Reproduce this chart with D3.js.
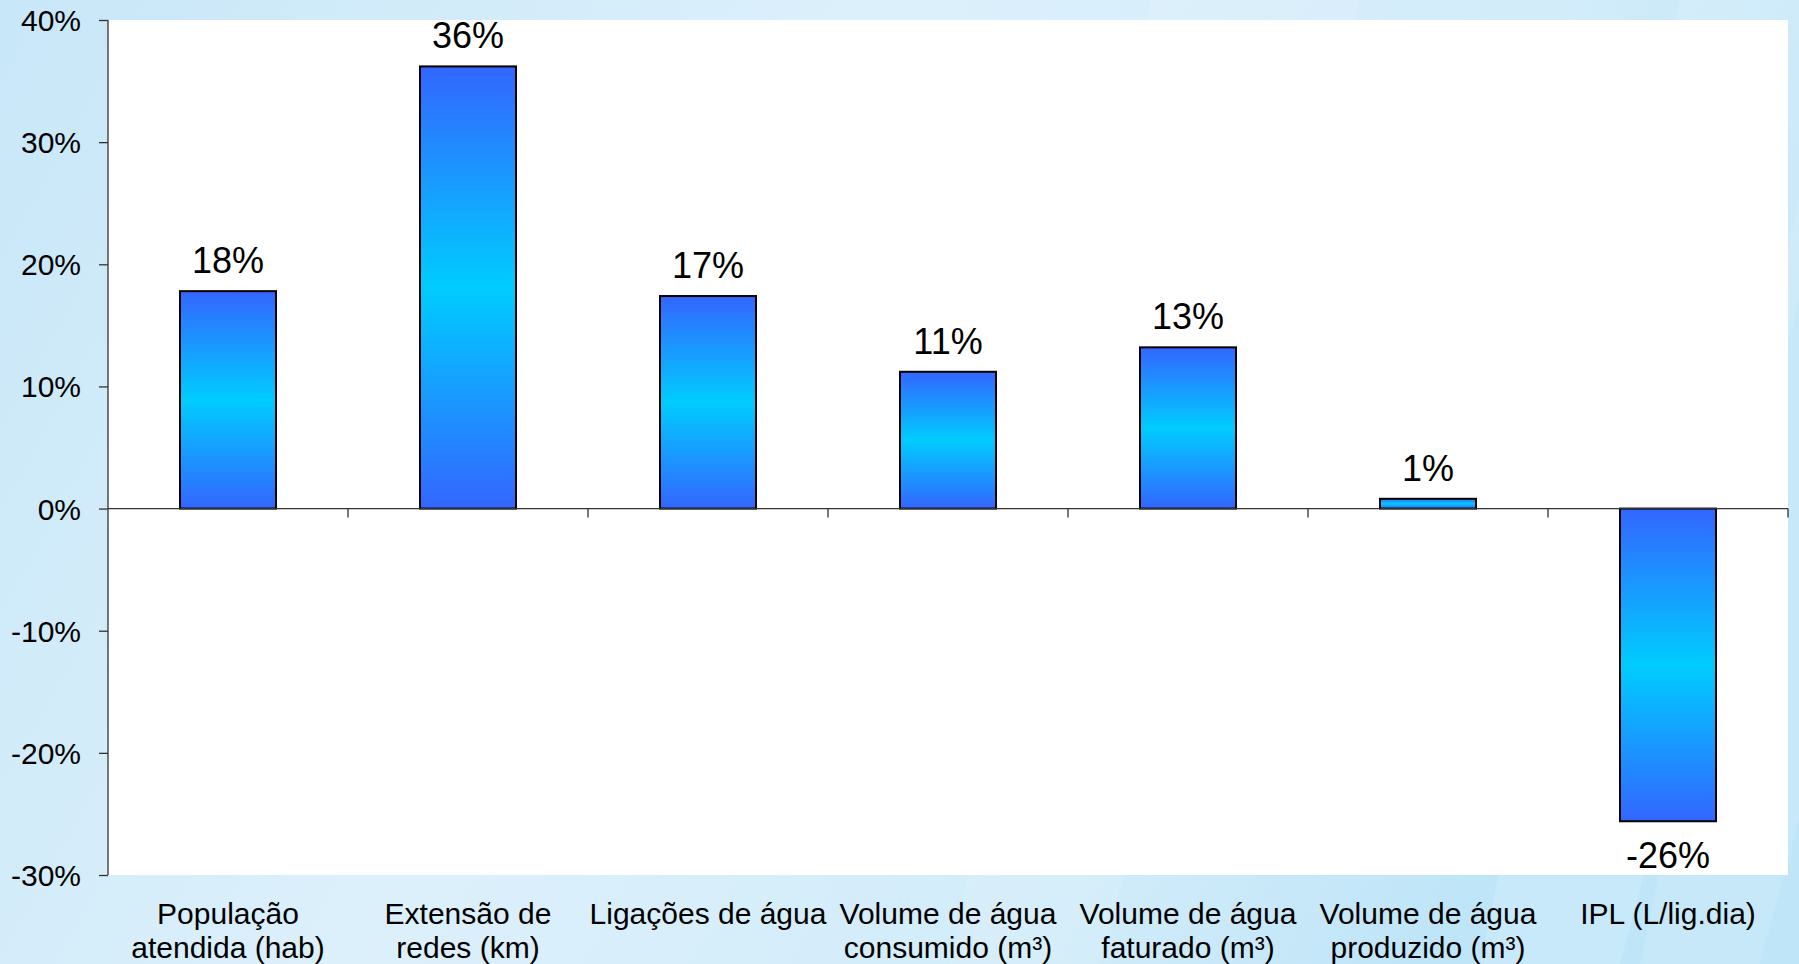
<!DOCTYPE html>
<html>
<head>
<meta charset="utf-8">
<script src="https://cdn.jsdelivr.net/npm/d3@7"></script>
<style>
  html, body { margin: 0; padding: 0; overflow: hidden; }
  svg { display: block; font-family: "Liberation Sans", Arial, sans-serif; }
</style>
</head>
<body>
<script>
// dados do grafico
var categorias = ["População\natendida (hab)", "Extensão de\nredes (km)", "Ligações de água",
                  "Volume de água\nconsumido (m³)", "Volume de água\nfaturado (m³)",
                  "Volume de água\nproduzido (m³)", "IPL (L/lig.dia)"];
var valores = [17.8, 36.2, 17.4, 11.2, 13.2, 0.8, -25.6];
var rotulos = ["18%", "36%", "17%", "11%", "13%", "1%", "-26%"];
var ticksY = [-30, -20, -10, 0, 10, 20, 30, 40];

var W = 1799, H = 964;
var mEsq = 108, mDir = 1788, mTopo = 20, mBase = 875;

var svg = d3.select("body").append("svg")
    .attr("width", W)
    .attr("height", H);

var defs = svg.append("defs");

var bg = defs.append("linearGradient").attr("id", "bg")
    .attr("x1", "0").attr("y1", "0").attr("x2", "1").attr("y2", "0.3");
bg.append("stop").attr("offset", "0").attr("stop-color", "#c8e7f8");
bg.append("stop").attr("offset", "0.45").attr("stop-color", "#dcf0fb");
bg.append("stop").attr("offset", "0.8").attr("stop-color", "#d2ecfa");
bg.append("stop").attr("offset", "1").attr("stop-color", "#bfe5f8");

var barGrad = defs.append("linearGradient").attr("id", "barra")
    .attr("x1", "0").attr("y1", "0").attr("x2", "0").attr("y2", "1");
barGrad.append("stop").attr("offset", "0").attr("stop-color", "#3366ff");
barGrad.append("stop").attr("offset", "0.5").attr("stop-color", "#00ccff");
barGrad.append("stop").attr("offset", "1").attr("stop-color", "#3366ff");

svg.append("rect").attr("width", W).attr("height", H).attr("fill", "url(#bg)");

// faixas claras do fundo
var faixas = [[1480, 1620, 0.15], [1640, 1760, 0.12], [950, 1100, 0.1]];
svg.selectAll("path.faixa").data(faixas).enter().append("path")
    .attr("class", "faixa")
    .attr("d", function(d){ return "M" + d[0] + ",964 L" + d[1] + ",964 L" + (d[1] + 260) + ",0 L" + (d[0] + 200) + ",0 Z"; })
    .attr("fill", "#ffffff")
    .attr("opacity", function(d){ return d[2]; });

svg.append("rect")
    .attr("x", mEsq).attr("y", mTopo)
    .attr("width", mDir - mEsq).attr("height", mBase - mTopo)
    .attr("fill", "#ffffff");

var x = d3.scaleBand().domain(categorias).range([mEsq, mDir]).paddingInner(0.6).paddingOuter(0.3);
var y = d3.scaleLinear().domain([-30, 40]).range([mBase, mTopo]);

// barras
svg.selectAll("rect.barra").data(valores).enter().append("rect")
    .attr("class", "barra")
    .attr("x", function(d, i){ return x(categorias[i]); })
    .attr("y", function(d){ return y(Math.max(0, d)); })
    .attr("width", x.bandwidth())
    .attr("height", function(d){ return Math.abs(y(d) - y(0)); })
    .attr("fill", "url(#barra)")
    .attr("stroke", "#000")
    .attr("stroke-width", 2);

// linha do zero e marcas
svg.append("line")
    .attr("x1", mEsq).attr("x2", mDir)
    .attr("y1", y(0)).attr("y2", y(0))
    .attr("stroke", "#333").attr("stroke-width", 1.3);

var step = (mDir - mEsq) / categorias.length;
var bordas = d3.range(1, categorias.length + 1).map(function(i){ return mEsq + i * step; });
svg.selectAll("line.xt").data(bordas).enter().append("line")
    .attr("class", "xt")
    .attr("x1", function(d){ return d; }).attr("x2", function(d){ return d; })
    .attr("y1", y(0)).attr("y2", y(0) + 9)
    .attr("stroke", "#333").attr("stroke-width", 1.3);

// eixo y
var eixoY = d3.axisLeft(y).tickValues(ticksY).tickSize(9).tickPadding(18)
    .tickFormat(function(d){ return d + "%"; });
var gY = svg.append("g").attr("transform", "translate(" + mEsq + ",0)").call(eixoY);
gY.select(".domain").attr("stroke", "#333").attr("stroke-width", 1.3).attr("d", "M0," + mTopo + "V" + mBase);
gY.selectAll(".tick line").attr("stroke", "#333").attr("stroke-width", 1.3);
gY.selectAll(".tick text")
    .attr("font-size", 30)
    .attr("font-family", "Liberation Sans, Arial, sans-serif")
    .attr("fill", "#000")
    .attr("dy", "0.35em");

// rotulos de valor
svg.selectAll("text.valor").data(valores).enter().append("text")
    .attr("class", "valor")
    .attr("x", function(d, i){ return x(categorias[i]) + x.bandwidth() / 2; })
    .attr("y", function(d){ return d >= 0 ? y(d) - 18 : y(d) + 47; })
    .attr("text-anchor", "middle")
    .attr("font-size", 36)
    .attr("fill", "#000")
    .text(function(d, i){ return rotulos[i]; });

// categorias
var cat = svg.selectAll("text.cat").data(categorias).enter().append("text")
    .attr("class", "cat")
    .attr("x", function(d){ return x(d) + x.bandwidth() / 2; })
    .attr("y", 924)
    .attr("text-anchor", "middle")
    .attr("font-size", 30)
    .attr("fill", "#000");
cat.selectAll("tspan").data(function(d){ return d.split("\n"); }).enter().append("tspan")
    .attr("x", function(){ return d3.select(this.parentNode).attr("x"); })
    .attr("dy", function(d, i){ return i === 0 ? 0 : 34; })
    .text(function(d){ return d; });
</script>
</body>
</html>
